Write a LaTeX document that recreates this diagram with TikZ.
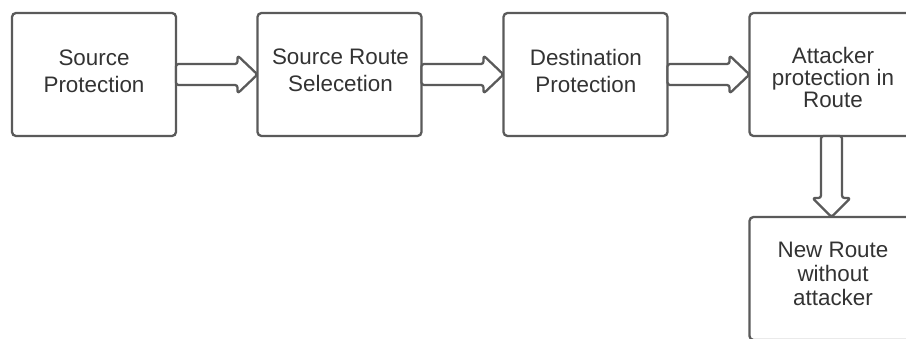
\documentclass[tikz,border=0pt]{standalone}
\usepackage{fontspec}
\setmainfont{Liberation Sans}
\usetikzlibrary{calc}
\definecolor{edge}{HTML}{5A5A5A}
\definecolor{ink}{HTML}{333333}
\tikzset{
  stage/.style={draw=edge, line width=2.3pt, rounded corners=4pt, fill=white,
    minimum width=164pt, minimum height=123pt, inner sep=0pt, outer sep=0pt},
  caption/.style={text=ink, align=center, inner sep=0pt},
  blk/.style={draw=edge, line width=2.3pt, fill=white, rounded corners=2.5pt, line join=round},
}
% hollow block arrow from the right side of #1 to the left side of #2
\newcommand\rightblock[2]{%
  \draw[blk] let \p1=(#1.east), \p2=(#2.west) in
    (\x1,\y1+10.5) -- (\x2-20pt,\y1+10.5) -- (\x2-20pt,\y1+19) -- (\x2,\y1)
    -- (\x2-20pt,\y1-19) -- (\x2-20pt,\y1-10.5) -- (\x1,\y1-10.5) -- cycle;}
% hollow block arrow from the bottom of #1 down to the top of #2
\newcommand\downblock[2]{%
  \draw[blk] let \p1=(#1.south), \p2=(#2.north) in
    (\x1-10.5,\y1) -- (\x1-10.5,\y2+19pt) -- (\x1-19,\y2+19pt) -- (\x1,\y2)
    -- (\x1+19,\y2+19pt) -- (\x1+10.5,\y2+19pt) -- (\x1+10.5,\y1) -- cycle;}
\begin{document}
\begin{tikzpicture}[x=1pt,y=-1pt]
  \path[use as bounding box] (0,0) rectangle (906,339);
  \clip (0,0) rectangle (906,339);
  \fill[white] (0,0) rectangle (906,339);

  \node[stage] (s1) at (94,74.5) {};
  \node[stage] (s2) at (339.5,74.5) {};
  \node[stage] (s3) at (585.5,74.5) {};
  \node[stage] (s4) at (831.5,74.5) {};
  \node[stage] (s5) at (831.5,278.5) {};

  \node[caption, font=\fontsize{22.4}{27}\selectfont] (c1) at (94,71.3) {Source\\Protection};
  \node[caption, font=\fontsize{22.4}{27}\selectfont] (c2) at (340.5,70.2) {Source Route\\Selecetion};
  \node[caption, font=\fontsize{22.4}{27}\selectfont] (c3) at (585.9,71.2) {Destination\\Protection};
  \node[caption, font=\fontsize{22.4}{22}\selectfont] (c4) at (833,77) {Attacker\\protection in\\Route};
  \node[caption, font=\fontsize{22.4}{24}\selectfont] (c5) at (833,274.3) {New Route\\without\\attacker};

  \rightblock{s1}{s2}
  \rightblock{s2}{s3}
  \rightblock{s3}{s4}
  \downblock{s4}{s5}
\end{tikzpicture}
\end{document}
